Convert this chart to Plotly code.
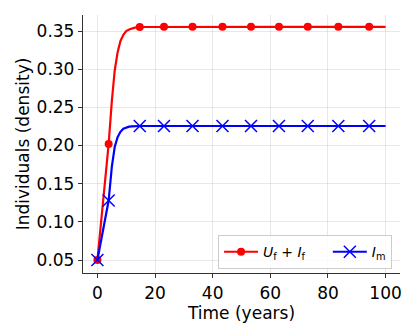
import plotly.graph_objects as go

# curve values
t = [0, 1, 2, 3, 3.9, 5, 6, 7, 8, 9, 10, 11, 12, 13, 14.7, 23.1, 33, 43.4, 53.3, 63, 73, 83.6, 94.3, 100]
female = [0.05, 0.088, 0.127, 0.166, 0.202, 0.258, 0.298, 0.322, 0.337, 0.345, 0.350, 0.352, 0.3538, 0.3545, 0.3553,
          0.3555, 0.3555, 0.3555, 0.3555, 0.3555, 0.3555, 0.3555, 0.3555, 0.3555]
male = [0.05, 0.069, 0.089, 0.109, 0.128, 0.172, 0.198, 0.211, 0.218, 0.222, 0.2238, 0.2247, 0.2252, 0.2254, 0.2256,
        0.2256, 0.2256, 0.2256, 0.2256, 0.2256, 0.2256, 0.2256, 0.2256, 0.2256]

# points that carry markers
mark_t = [0, 3.9, 14.7, 23.1, 33, 43.4, 53.3, 63, 73, 83.6, 94.3]
mark_female = [0.05, 0.202, 0.3553, 0.3555, 0.3555, 0.3555, 0.3555, 0.3555, 0.3555, 0.3555, 0.3555]
mark_male = [0.05, 0.128, 0.2256, 0.2256, 0.2256, 0.2256, 0.2256, 0.2256, 0.2256, 0.2256, 0.2256]

x_ticks = [0, 20, 40, 60, 80, 100]
y_ticks = [0.05, 0.10, 0.15, 0.20, 0.25, 0.30, 0.35]

FONT = "DejaVu Sans"
red_marker = dict(symbol="circle", size=8, color="red")
blue_marker = dict(symbol="x-thin", size=12, line=dict(color="blue", width=1.5), color="blue")

fig = go.Figure()

fig.add_trace(go.Scatter(x=t, y=female, mode="lines", line=dict(color="red", width=2.2),
                         showlegend=False, hoverinfo="skip"))
fig.add_trace(go.Scatter(x=mark_t, y=mark_female, mode="markers", marker=red_marker,
                         showlegend=False))
fig.add_trace(go.Scatter(x=t, y=male, mode="lines", line=dict(color="blue", width=2.2),
                         showlegend=False, hoverinfo="skip"))
fig.add_trace(go.Scatter(x=mark_t, y=mark_male, mode="markers", marker=blue_marker,
                         showlegend=False))

# legend entries (line + marker)
fig.add_trace(go.Scatter(x=[None], y=[None], mode="lines+markers", line=dict(color="red", width=2.2),
                         marker=red_marker,
                         name="<i>U</i><sub>f</sub> + <i>I</i><sub>f</sub>" + "&nbsp;" * 4))
fig.add_trace(go.Scatter(x=[None], y=[None], mode="lines+markers", line=dict(color="blue", width=2.2),
                         marker=blue_marker, name="<i>I</i><sub>m</sub>"))

axis_common = dict(
    showgrid=True, gridcolor="rgba(0,0,0,0.09)", gridwidth=1,
    showline=True, linecolor="#333", linewidth=1.3,
    ticks="outside", ticklen=4, tickcolor="#333",
    zeroline=False, tickfont=dict(family=FONT, size=17, color="black"),
    automargin=False,
)

fig.update_xaxes(axis_common, range=[-5, 105], tickvals=x_ticks,
                 title=dict(text="Time (years)", font=dict(family=FONT, size=17, color="black"), standoff=2))
fig.update_yaxes(axis_common, range=[0.033, 0.371], tickvals=y_ticks, tickformat=".2f",
                 title=dict(text="Individuals (density)", font=dict(family=FONT, size=17, color="black"), standoff=2))

# page body adds an 8px offset, so margins are trimmed to land the plot box where the reference has it
fig.update_layout(
    width=415, height=332,
    margin=dict(l=75, r=23, t=7, b=67),
    plot_bgcolor="white", paper_bgcolor="white",
    font=dict(family=FONT, color="black"),
    legend=dict(orientation="h", x=0.975, y=0.015, xanchor="right", yanchor="bottom",
                bgcolor="rgba(255,255,255,0.8)", bordercolor="#ccc", borderwidth=1,
                font=dict(family=FONT, size=14), itemwidth=34),
)

fig.write_html("out.html")
